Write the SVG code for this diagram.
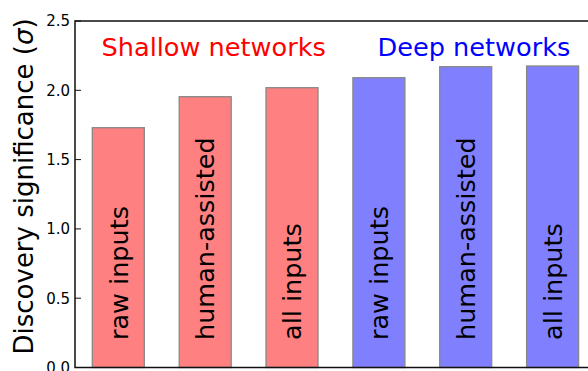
<svg xmlns="http://www.w3.org/2000/svg" width="588" height="371" viewBox="0 0 588 371">
<style>
text{font-family:"DejaVu Sans","Liberation Sans",sans-serif;}
.tick{font-size:15px;fill:#000;text-anchor:end;}
.big{font-size:25.6px;}
.ylab{font-size:26px;fill:#000;}
.lab{font-size:25.5px;fill:#000;}
.red{fill:#ff8080;stroke:#888;stroke-width:1.3;}
.blue{fill:#8080ff;stroke:#888;stroke-width:1.3;}
.spine{stroke:#111;stroke-width:1.5;fill:none;}
.tk{stroke:#111;stroke-width:1;}
</style>
<rect width="588" height="371" fill="#fff"/>
<g id="bars">
<g id="bar1"><rect class="red" x="92.3" y="127.7" width="52" height="239.8"/><text class="lab" transform="translate(127.5,340) rotate(-90)">raw inputs</text></g>
<g id="bar2"><rect class="red" x="179.2" y="96.7" width="52" height="270.8"/><text class="lab" transform="translate(214.3,340) rotate(-90)">human-assisted</text></g>
<g id="bar3"><rect class="red" x="266" y="87.7" width="52" height="279.8"/><text class="lab" transform="translate(301.2,340) rotate(-90)">all inputs</text></g>
<g id="bar4"><rect class="blue" x="352.9" y="77.7" width="52" height="289.8"/><text class="lab" transform="translate(388,340) rotate(-90)">raw inputs</text></g>
<g id="bar5"><rect class="blue" x="439.7" y="66.7" width="52" height="300.8"/><text class="lab" transform="translate(474.8,340) rotate(-90)">human-assisted</text></g>
<g id="bar6"><rect class="blue" x="526.6" y="66" width="52" height="301.5"/><text class="lab" transform="translate(561.7,340) rotate(-90)">all inputs</text></g>
</g>
<g id="axes">
<path class="spine" d="M588,21 H75 V367.5 H588"/>
<path class="tk" d="M75,367.5h6M75,298.2h6M75,228.9h6M75,159.6h6M75,90.3h6M75,21h6"/>
<text class="tick" x="70" y="373">0.0</text>
<text class="tick" x="70" y="303.6">0.5</text>
<text class="tick" x="70" y="234.3">1.0</text>
<text class="tick" x="70" y="165">1.5</text>
<text class="tick" x="70" y="95.7">2.0</text>
<text class="tick" x="70" y="26.4">2.5</text>
<text class="ylab" transform="translate(33,354.5) rotate(-90)">Discovery significance (<tspan font-style="italic">σ</tspan>)</text>
</g>
<g id="legend">
<text class="big" fill="#ff0000" x="101.5" y="56">Shallow networks</text>
<text class="big" fill="#0000ff" x="377.5" y="55.5">Deep networks</text>
</g>
</svg>
